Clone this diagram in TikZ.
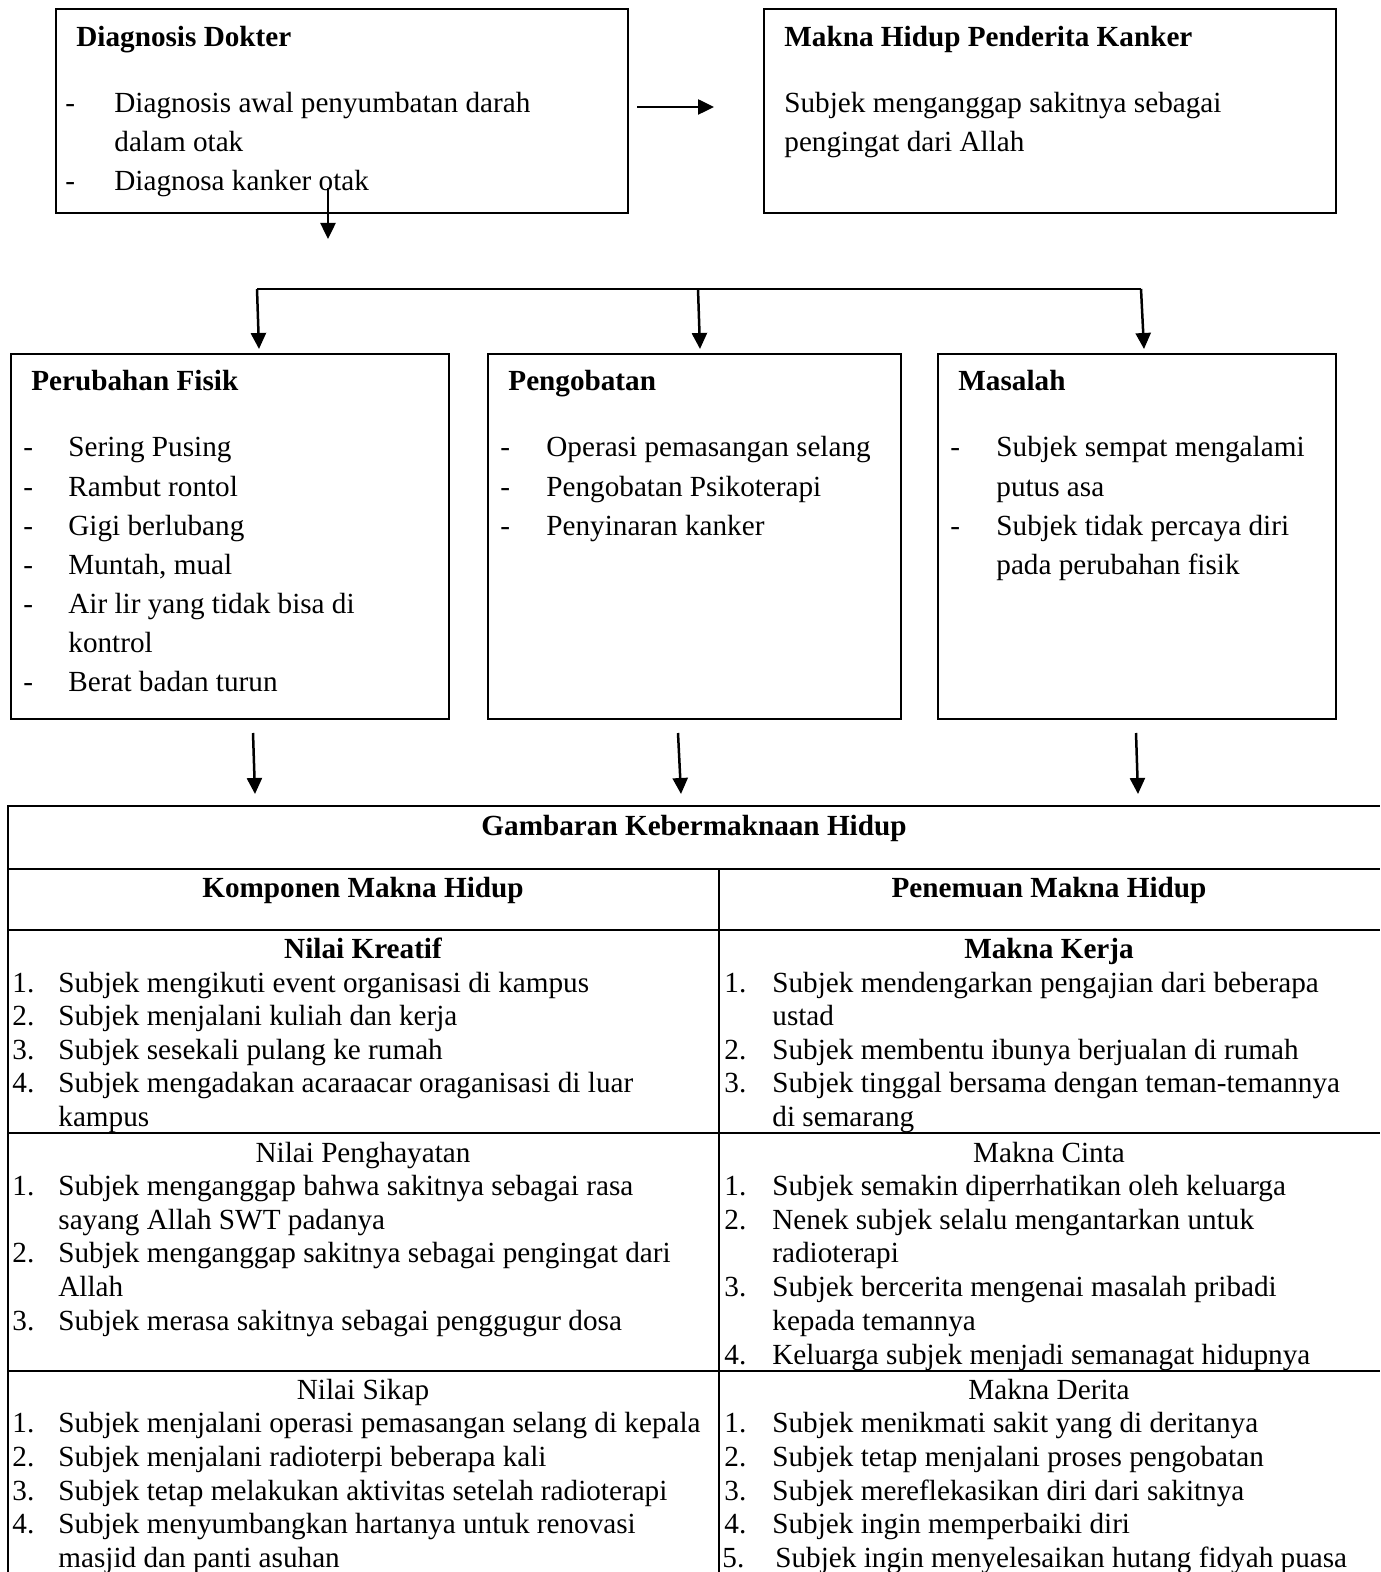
\documentclass[tikz,border=0pt]{standalone}
\usepackage{fontspec}
\setmainfont{Liberation Serif}
\usetikzlibrary{arrows.meta}

\begin{document}
\begin{tikzpicture}[x=0.5pt, y=-0.5pt,
    kotak/.style={draw, line width=1pt, inner sep=0pt, anchor=north west},
    teks/.style={anchor=base west, inner sep=0pt, font=\fontsize{14.6pt}{17pt}\selectfont},
    judul/.style={teks, font=\fontsize{14.6pt}{17pt}\selectfont\bfseries},
    tengah/.style={anchor=base, inner sep=0pt, font=\fontsize{14.6pt}{17pt}\selectfont},
    tengahb/.style={tengah, font=\fontsize{14.6pt}{17pt}\selectfont\bfseries},
    garis/.style={line width=1.2pt},
    panah/.style={-{Triangle[length=8pt,width=7.5pt]}, line width=1.25pt}]
            \useasboundingbox (0,0) rectangle (1380,1572);

            % kotak atas
            \node[kotak, minimum width=286pt, minimum height=102pt] (diag) at (55,8) {};
            \node[kotak, minimum width=286pt, minimum height=102pt] (makna) at (763,8) {};

            \node[judul] (dd) at (76,47) {Diagnosis Dokter};
            \node[teks] (dd1s) at (65,113) {-};
            \node[teks] (dd1) at (114,113) {Diagnosis awal penyumbatan darah};
            \node[teks] (dd1b) at (114,152) {dalam otak};
            \node[teks] (dd2s) at (65,191) {-};
            \node[teks] (dd2) at (114,191) {Diagnosa kanker otak};

            \node[judul] (mh) at (784,47) {Makna Hidup Penderita Kanker};
            \node[teks] (mh1) at (784,113) {Subjek menganggap sakitnya sebagai};
            \node[teks] (mh1b) at (784,152) {pengingat dari Allah};

            % kotak tengah
            \node[kotak, minimum width=219pt, minimum height=182.5pt] (fisik) at (10,353) {};
            \node[kotak, minimum width=206.5pt, minimum height=182.5pt] (obat) at (487,353) {};
            \node[kotak, minimum width=199pt, minimum height=182.5pt] (masalah) at (937,353) {};

            \node[judul] (pf) at (31,391) {Perubahan Fisik};
            \node[teks] (pf1s) at (23,457) {-};
            \node[teks] (pf1) at (68,457) {Sering Pusing};
            \node[teks] (pf2s) at (23,496) {-};
            \node[teks] (pf2) at (68,496) {Rambut rontol};
            \node[teks] (pf3s) at (23,535) {-};
            \node[teks] (pf3) at (68,535) {Gigi berlubang};
            \node[teks] (pf4s) at (23,574) {-};
            \node[teks] (pf4) at (68,574) {Muntah, mual};
            \node[teks] (pf5s) at (23,613) {-};
            \node[teks] (pf5) at (68,613) {Air lir yang tidak bisa di};
            \node[teks] (pf5b) at (68,652) {kontrol};
            \node[teks] (pf6s) at (23,691) {-};
            \node[teks] (pf6) at (68,691) {Berat badan turun};

            \node[judul] (po) at (508,391) {Pengobatan};
            \node[teks] (po1s) at (500,457) {-};
            \node[teks] (po1) at (546,457) {Operasi pemasangan selang};
            \node[teks] (po2s) at (500,496) {-};
            \node[teks] (po2) at (546,496) {Pengobatan Psikoterapi};
            \node[teks] (po3s) at (500,535) {-};
            \node[teks] (po3) at (546,535) {Penyinaran kanker};

            \node[judul] (ms) at (958,391) {Masalah};
            \node[teks] (ms1s) at (950,457) {-};
            \node[teks] (ms1) at (996,457) {Subjek sempat mengalami};
            \node[teks] (ms1b) at (996,496) {putus asa};
            \node[teks] (ms2s) at (950,535) {-};
            \node[teks] (ms2) at (996,535) {Subjek tidak percaya diri};
            \node[teks] (ms2b) at (996,574) {pada perubahan fisik};

            % panah
            \coordinate (h1) at (637,107);
            \coordinate (h2) at (714,107);
            \coordinate (v1) at (328,188);
            \coordinate (v2) at (328,239);
            \coordinate (c1) at (257,289);
            \coordinate (c2) at (698,289);
            \coordinate (c3) at (1141,289);
            \coordinate (t1) at (259,349);
            \coordinate (t2) at (700,349);
            \coordinate (t3) at (1144,349);
            \coordinate (u1) at (253,733);
            \coordinate (u2) at (678,733);
            \coordinate (u3) at (1136,733);
            \coordinate (w1) at (255,794);
            \coordinate (w2) at (681,794);
            \coordinate (w3) at (1138,794);

            \draw[panah] (h1) -- (h2);
            \draw[panah] (v1) -- (v2);
            \draw[garis, line width=1.25pt] (c1) -- (c3);
            \draw[panah] (c1) -- (t1);
            \draw[panah] (c2) -- (t2);
            \draw[panah] (c3) -- (t3);
            \draw[panah] (u1) -- (w1);
            \draw[panah] (u2) -- (w2);
            \draw[panah] (u3) -- (w3);

            % tabel
            \draw[garis] (8,1572) -- (8,806) -- (1380,806);
            \draw[garis] (8,869) -- (1380,869);
            \draw[garis] (8,930) -- (1380,930);
            \draw[garis] (8,1133) -- (1380,1133);
            \draw[garis] (8,1371) -- (1380,1371);
            \draw[line width=0.8pt] (719,869) -- (719,1572);

            \node[tengahb] (gk) at (694,835) {Gambaran Kebermaknaan Hidup};
            \node[tengahb] (km) at (363,897) {Komponen Makna Hidup};
            \node[tengahb] (pm) at (1049,897) {Penemuan Makna Hidup};

            \node[tengahb] (nk) at (363,958) {Nilai Kreatif};
            \node[teks] (nk1n) at (12,992) {1.};
            \node[teks] (nk1) at (58,992) {Subjek mengikuti event organisasi di kampus};
            \node[teks] (nk2n) at (12,1025) {2.};
            \node[teks] (nk2) at (58,1025) {Subjek menjalani kuliah dan kerja};
            \node[teks] (nk3n) at (12,1059) {3.};
            \node[teks] (nk3) at (58,1059) {Subjek sesekali pulang ke rumah};
            \node[teks] (nk4n) at (12,1092) {4.};
            \node[teks] (nk4) at (58,1092) {Subjek mengadakan acaraacar oraganisasi di luar};
            \node[teks] (nk4b) at (58,1126) {kampus};

            \node[tengahb] (mk) at (1049,958) {Makna Kerja};
            \node[teks] (mk1n) at (724,992) {1.};
            \node[teks] (mk1) at (772,992) {Subjek mendengarkan pengajian dari beberapa};
            \node[teks] (mk1b) at (772,1025) {ustad};
            \node[teks] (mk2n) at (724,1059) {2.};
            \node[teks] (mk2) at (772,1059) {Subjek membentu ibunya berjualan di rumah};
            \node[teks] (mk3n) at (724,1092) {3.};
            \node[teks] (mk3) at (772,1092) {Subjek tinggal bersama dengan teman-temannya};
            \node[teks] (mk3b) at (772,1126) {di semarang};

            \node[tengah] (np) at (363,1162) {Nilai Penghayatan};
            \node[teks] (np1n) at (12,1195) {1.};
            \node[teks] (np1) at (58,1195) {Subjek menganggap bahwa sakitnya sebagai rasa};
            \node[teks] (np1b) at (58,1229) {sayang Allah SWT padanya};
            \node[teks] (np2n) at (12,1262) {2.};
            \node[teks] (np2) at (58,1262) {Subjek menganggap sakitnya sebagai pengingat dari};
            \node[teks] (np2b) at (58,1296) {Allah};
            \node[teks] (np3n) at (12,1330) {3.};
            \node[teks] (np3) at (58,1330) {Subjek merasa sakitnya sebagai penggugur dosa};

            \node[tengah] (mc) at (1049,1162) {Makna Cinta};
            \node[teks] (mc1n) at (724,1195) {1.};
            \node[teks] (mc1) at (772,1195) {Subjek semakin diperrhatikan oleh keluarga};
            \node[teks] (mc2n) at (724,1229) {2.};
            \node[teks] (mc2) at (772,1229) {Nenek subjek selalu mengantarkan untuk};
            \node[teks] (mc2b) at (772,1262) {radioterapi};
            \node[teks] (mc3n) at (724,1296) {3.};
            \node[teks] (mc3) at (772,1296) {Subjek bercerita mengenai masalah pribadi};
            \node[teks] (mc3b) at (772,1330) {kepada temannya};
            \node[teks] (mc4n) at (724,1364) {4.};
            \node[teks] (mc4) at (772,1364) {Keluarga subjek menjadi semanagat hidupnya};

            \node[tengah] (ns) at (363,1399) {Nilai Sikap};
            \node[teks] (ns1n) at (12,1432) {1.};
            \node[teks] (ns1) at (58,1432) {Subjek menjalani operasi pemasangan selang di kepala};
            \node[teks] (ns2n) at (12,1466) {2.};
            \node[teks] (ns2) at (58,1466) {Subjek menjalani radioterpi beberapa kali};
            \node[teks] (ns3n) at (12,1500) {3.};
            \node[teks] (ns3) at (58,1500) {Subjek tetap melakukan aktivitas setelah radioterapi};
            \node[teks] (ns4n) at (12,1533) {4.};
            \node[teks] (ns4) at (58,1533) {Subjek menyumbangkan hartanya untuk renovasi};
            \node[teks] (ns4b) at (58,1567) {masjid dan panti asuhan};

            \node[tengah] (md) at (1049,1399) {Makna Derita};
            \node[teks] (md1n) at (724,1432) {1.};
            \node[teks] (md1) at (772,1432) {Subjek menikmati sakit yang di deritanya};
            \node[teks] (md2n) at (724,1466) {2.};
            \node[teks] (md2) at (772,1466) {Subjek tetap menjalani proses pengobatan};
            \node[teks] (md3n) at (724,1500) {3.};
            \node[teks] (md3) at (772,1500) {Subjek mereflekasikan diri dari sakitnya};
            \node[teks] (md4n) at (724,1533) {4.};
            \node[teks] (md4) at (772,1533) {Subjek ingin memperbaiki diri};
            \node[teks] (md5n) at (722,1567) {5.};
            \node[teks] (md5) at (775,1567) {Subjek ingin menyelesaikan hutang fidyah puasa};
\end{tikzpicture}
\end{document}
